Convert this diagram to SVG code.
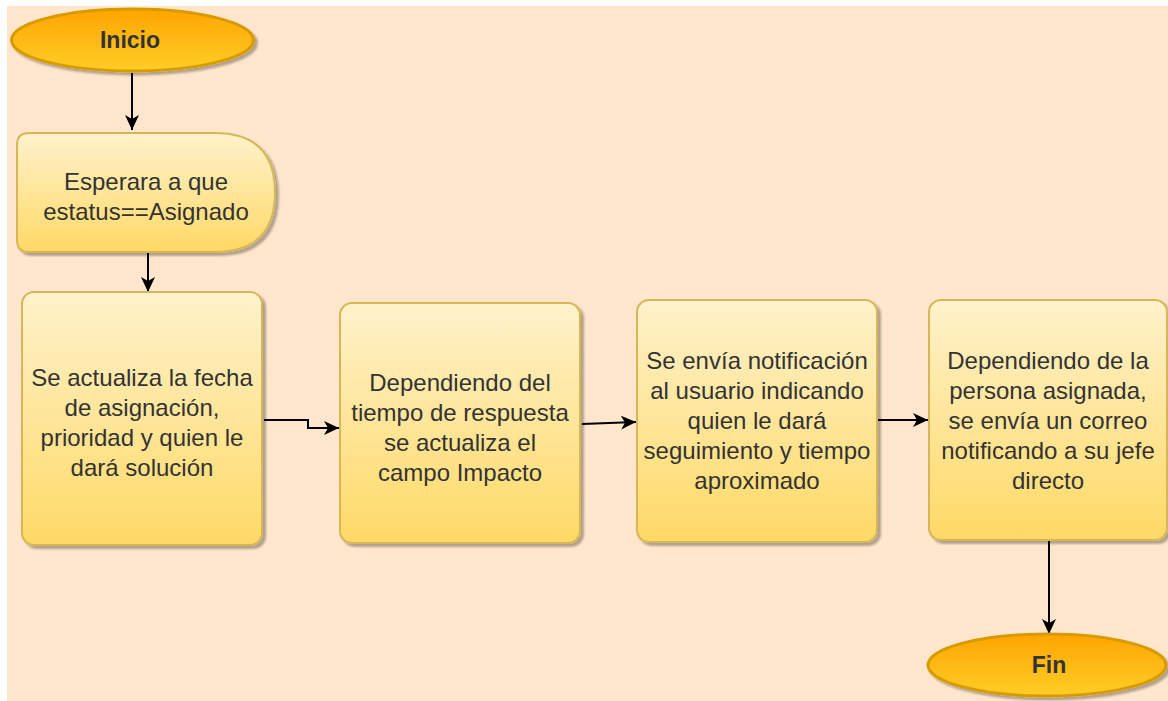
<svg xmlns="http://www.w3.org/2000/svg" width="1168" height="701" viewBox="0 0 1168 701">
  <style>
    .proc { fill: url(#gProc); stroke: #d6b656; stroke-width: 2; filter: url(#sh); }
    .term { fill: url(#gTerm); stroke: #d79b00; stroke-width: 3; filter: url(#sh); }
    .t { font-family: "Liberation Sans", Arial, sans-serif; font-size: 24px; fill: #333333; text-anchor: middle; dominant-baseline: central; }
    .tb { font-family: "Liberation Sans", Arial, sans-serif; font-size: 23px; font-weight: bold; fill: #333333; text-anchor: middle; dominant-baseline: central; }
    .conn { fill: none; stroke: #000000; stroke-width: 2; marker-end: url(#arr); }
  </style>
  <defs>
    <linearGradient id="gProc" x1="0" y1="0" x2="0" y2="1">
      <stop offset="0" stop-color="#fff2cc"/>
      <stop offset="1" stop-color="#ffd966"/>
    </linearGradient>
    <linearGradient id="gTerm" x1="0" y1="0" x2="0" y2="1">
      <stop offset="0" stop-color="#ffa500"/>
      <stop offset="1" stop-color="#ffcd28"/>
    </linearGradient>
    <filter id="sh" x="-10%" y="-10%" width="130%" height="130%">
      <feDropShadow dx="3" dy="3" stdDeviation="1.2" flood-color="#000000" flood-opacity="0.3"/>
    </filter>
    <marker id="arr" markerUnits="userSpaceOnUse" markerWidth="16" markerHeight="14" refX="15" refY="7" orient="auto">
      <path d="M0,0 L15,7 L0,14 L4,7 Z" fill="#000000"/>
    </marker>
  </defs>

  <rect x="0" y="0" width="1168" height="701" fill="#ffffff"/>
  <rect x="7" y="6" width="1161" height="695" fill="#ffe6cc"/>

  <g id="connectors">
    <path class="conn" d="M132,73 L132,130"/>
    <path class="conn" d="M148,253 L148,292"/>
    <path class="conn" d="M264,420 L308,420 L308,428 L339,428"/>
    <path class="conn" d="M582,424 L636,422"/>
    <path class="conn" d="M877,420 L928,420"/>
    <path class="conn" d="M1049,541 L1049,634"/>
  </g>

  <g id="inicio">
    <ellipse class="term" cx="132.5" cy="40" rx="121" ry="31"/>
    <text class="tb" x="130" y="40">Inicio</text>
  </g>

  <g id="esperar">
    <path class="proc" d="M29,133 L215,133 Q275,133 275,192.5 Q275,252 215,252 L29,252 Q17,252 17,240 L17,145 Q17,133 29,133 Z"/>
    <text class="t" x="146" y="181">Esperara a que</text>
    <text class="t" x="146" y="211">estatus==Asignado</text>
  </g>

  <g id="actualiza-fecha">
    <rect class="proc" x="22" y="292" width="240" height="253" rx="12"/>
    <text class="t" x="142" y="377">Se actualiza la fecha</text>
    <text class="t" x="142" y="407">de asignación,</text>
    <text class="t" x="142" y="437">prioridad y quien le</text>
    <text class="t" x="142" y="467">dará solución</text>
  </g>

  <g id="impacto">
    <rect class="proc" x="340" y="303" width="240" height="240" rx="12"/>
    <text class="t" x="460" y="382">Dependiendo del</text>
    <text class="t" x="460" y="412">tiempo de respuesta</text>
    <text class="t" x="460" y="442">se actualiza el</text>
    <text class="t" x="460" y="472">campo Impacto</text>
  </g>

  <g id="notificacion">
    <rect class="proc" x="637" y="300" width="240" height="242" rx="12"/>
    <text class="t" x="757" y="360">Se envía notificación</text>
    <text class="t" x="757" y="390">al usuario indicando</text>
    <text class="t" x="757" y="420">quien le dará</text>
    <text class="t" x="757" y="450">seguimiento y tiempo</text>
    <text class="t" x="757" y="480">aproximado</text>
  </g>

  <g id="correo-jefe">
    <rect class="proc" x="929" y="300" width="238" height="240" rx="12"/>
    <text class="t" x="1048" y="360">Dependiendo de la</text>
    <text class="t" x="1048" y="390">persona asignada,</text>
    <text class="t" x="1048" y="420">se envía un correo</text>
    <text class="t" x="1048" y="450">notificando a su jefe</text>
    <text class="t" x="1048" y="480">directo</text>
  </g>

  <g id="fin">
    <ellipse class="term" cx="1047" cy="665" rx="119" ry="31"/>
    <text class="tb" x="1049" y="665">Fin</text>
  </g>
</svg>
